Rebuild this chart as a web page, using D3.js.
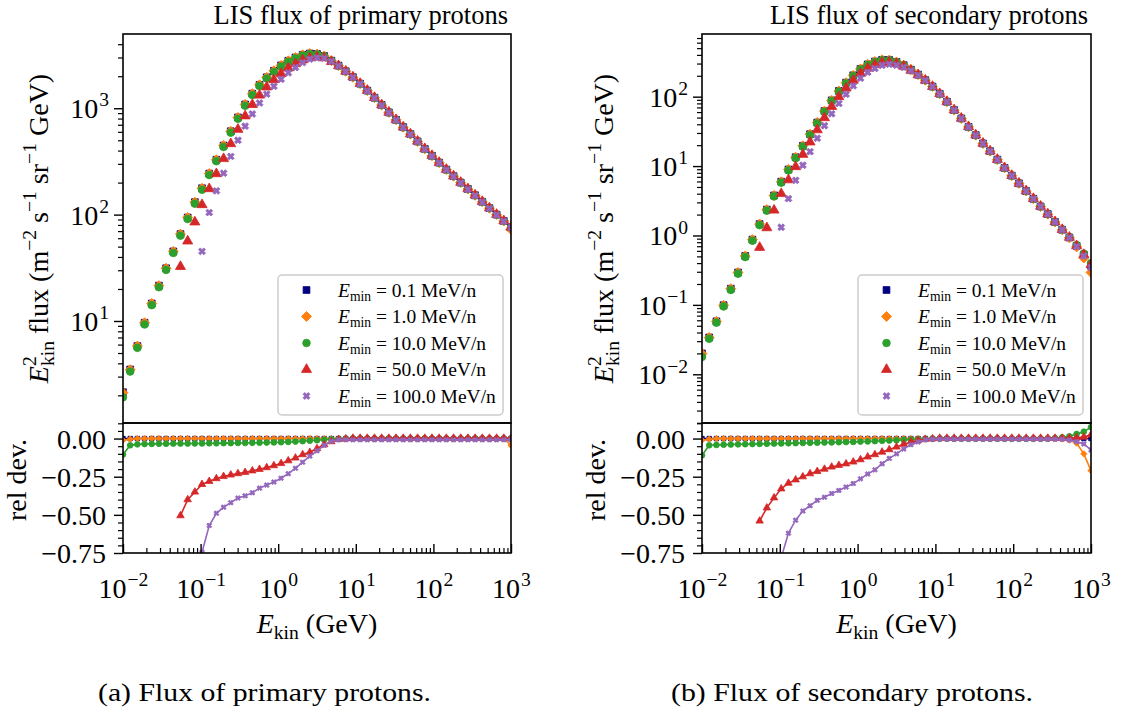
<!DOCTYPE html>
<html><head><meta charset="utf-8">
<script src="https://cdn.jsdelivr.net/npm/d3@7"></script>
<style>body{margin:0;background:#fff}svg{display:block}</style>
</head><body><svg id="c" width="1124" height="713"></svg>
<script>
// ---------------- DATA ----------------
const seriesLabels = ["0.1", "1.0", "10.0", "50.0", "100.0"];
const seriesColors = ["#000080", "#ff7f0e", "#2ca02c", "#d62728", "#9467bd"];

// kinetic energy grid (GeV)
const energies = [0.01, 0.01238, 0.01532, 0.01896, 0.02346, 0.02904, 0.03594, 0.04448, 0.05503, 0.06813,
  0.08432, 0.1043, 0.1292, 0.1598, 0.1978, 0.2448, 0.3030, 0.3750, 0.4642, 0.5745,
  0.7110, 0.8799, 1.089, 1.348, 1.668, 2.065, 2.555, 3.162, 3.914, 4.844,
  5.995, 7.420, 9.183, 11.37, 14.07, 17.41, 21.54, 26.67, 33.00, 40.84,
  50.55, 62.56, 77.43, 95.83, 118.6, 146.8, 181.7, 224.9, 278.3, 344.5,
  426.3, 527.6, 653.0, 808.2, 1000];

// reference flux (E_min = 0.1 MeV/n)
const primaryRefFlux = [2.14, 3.50, 5.81, 9.62, 14.6, 21.5, 31.3, 45.1, 65.6, 94.0,
  131, 177, 243, 328, 446, 608, 820, 1086, 1371, 1660,
  1954, 2249, 2529, 2793, 2999, 3177, 3273, 3236, 3097, 2800,
  2518, 2228, 1959, 1702, 1466, 1256, 1072, 914, 778, 664,
  571, 488, 415, 357, 308, 265, 230, 200, 174, 152,
  132, 115, 100, 87.1, 75.9];
const secondaryRefFlux = [0.0200, 0.0340, 0.0579, 0.0989, 0.171, 0.293, 0.507, 0.871, 1.46, 2.36,
  3.78, 5.96, 8.93, 13.4, 19.6, 28.8, 42.4, 62.1, 88.5, 121,
  159, 203, 251, 292, 321, 339, 337, 316, 284, 245,
  208, 173, 140, 110, 84.5, 64.1, 48.6, 36.8, 27.9, 21.2,
  16.4, 12.4, 9.42, 7.28, 5.64, 4.37, 3.38, 2.62, 2.03, 1.57,
  1.21, 0.935, 0.706, 0.525, 0.372];

// relative deviations w.r.t. the reference (null = no point)
const primaryDevE01 = [0,0,0,0,0,0,0,0,0,0, 0,0,0,0,0,0,0,0,0,0, 0,0,0,0,0,0,0,0,0,0, 0,0,0,0,0,0,0,0,0,0, 0,0,0,0,0,0,0,0,0,0, 0,0,0,0,0];
const primaryDevE1 = [-0.01,-0.004,0,0,0,0,0,0,0,0, 0,0,0,0,0,0,0,0,0,0, 0,0,0,0,0,0,0,0,0,0, 0,0,0,0,0,0,0,0,0,0, 0,0,0,0,0,0,0,0,0,0, 0,0,0,0,-0.045];
const primaryDevE10 = [-0.105,-0.044,-0.038,-0.036,-0.035,-0.034,-0.034,-0.033,-0.033,-0.033,
  -0.032,-0.032,-0.031,-0.031,-0.030,-0.030,-0.029,-0.029,-0.028,-0.027,
  -0.026,-0.025,-0.024,-0.022,-0.020,-0.017,-0.014,-0.011,-0.008,-0.005,
  -0.003,-0.001,0,0,0,0,0,0,0,0, 0,0,0,0,0,0,0,0,0,0, 0,0,0,0,0];
const primaryDevE50 = [null,null,null,null,null,null,null,null,-0.505,-0.40,
  -0.35,-0.30,-0.28,-0.262,-0.248,-0.238,-0.229,-0.221,-0.211,-0.201,
  -0.19,-0.177,-0.163,-0.145,-0.127,-0.105,-0.09,-0.065,-0.04,-0.02,
  -0.005,-0.001,0.003,0.003,0.003,0.003,0.003,0.003,0.003,0.003,
  0.003,0.003,0.003,0.003,0.003,0.003,0.003,0.003,0.003,0.003,
  0.003,0.003,0.003,0.003,0.003];
const primaryDevE100 = [null,null,null,null,null,null,null,null,null,null,
  null,-0.745,-0.57,-0.49,-0.45,-0.42,-0.39,-0.375,-0.355,-0.325,
  -0.305,-0.285,-0.26,-0.23,-0.195,-0.155,-0.115,-0.08,-0.045,-0.018,
  -0.008,-0.008,-0.008,-0.008,-0.008,-0.008,-0.008,-0.008,-0.008,-0.008,
  -0.008,-0.008,-0.008,-0.008,-0.008,-0.008,-0.008,-0.008,-0.008,-0.008,
  -0.008,-0.008,-0.008,-0.008,-0.008];

const secondaryDevE01 = [0,0,0,0,0,0,0,0,0,0, 0,0,0,0,0,0,0,0,0,0, 0,0,0,0,0,0,0,0,0,0, 0,0,0,0,0,0,0,0,0,0, 0,0,0,0,0,0,0,0,0,0, 0,0,0,0,0];
const secondaryDevE1 = [-0.01,-0.004,0,0,0,0,0,0,0,0, 0,0,0,0,0,0,0,0,0,0, 0,0,0,0,0,0,0,0,0,0, 0,0,0,0,0,0,0,0,0,0, 0,0,0,0,0,0,0,0,0,0, -0.003,-0.01,-0.03,-0.10,-0.21];
const secondaryDevE10 = [-0.11,-0.044,-0.042,-0.040,-0.039,-0.038,-0.037,-0.036,-0.035,-0.034,
  -0.033,-0.032,-0.031,-0.030,-0.029,-0.028,-0.027,-0.026,-0.025,-0.024,
  -0.023,-0.022,-0.020,-0.019,-0.017,-0.015,-0.013,-0.011,-0.009,-0.007,
  -0.005,-0.003,-0.001,0,0,0,0,0,0,0, 0,0,0,0,0,0,0,0,0,0.003,
  0.008,0.015,0.03,0.045,0.075];
const secondaryDevE50 = [null,null,null,null,null,null,null,null,-0.54,-0.454,
  -0.388,-0.329,-0.292,-0.27,-0.25,-0.23,-0.215,-0.20,-0.186,-0.175,
  -0.165,-0.153,-0.138,-0.12,-0.105,-0.088,-0.072,-0.055,-0.037,-0.022,
  -0.011,-0.004,-0.001,0.003,0.003,0.003,0.003,0.003,0.003,0.003,
  0.003,0.003,0.003,0.003,0.003,0.003,0.003,0.003,0.003,0.003,
  0.003,0.003,0.005,0.01,0.025];
const secondaryDevE100 = [null,null,null,null,null,null,null,null,null,null,
  null,-0.78,-0.62,-0.535,-0.475,-0.44,-0.405,-0.385,-0.36,-0.34,
  -0.318,-0.295,-0.264,-0.232,-0.205,-0.165,-0.13,-0.10,-0.068,-0.04,
  -0.022,-0.008,-0.004,-0.004,-0.004,-0.004,-0.004,-0.004,-0.004,-0.004,
  -0.004,-0.004,-0.004,-0.004,-0.004,-0.004,-0.004,-0.004,-0.004,-0.004,
  -0.005,-0.01,-0.02,-0.035,-0.075];

// tick values / labels
const xMajorTicks = [0.01, 0.1, 1, 10, 100, 1000];
const xMinorTicks = [0.02,0.03,0.04,0.05,0.06,0.07,0.08,0.09, 0.2,0.3,0.4,0.5,0.6,0.7,0.8,0.9,
  2,3,4,5,6,7,8,9, 20,30,40,50,60,70,80,90, 200,300,400,500,600,700,800,900];
const primaryYMajor = [10, 100, 1000];
const primaryYMinor = [2,3,4,5,6,7,8,9, 20,30,40,50,60,70,80,90, 200,300,400,500,600,700,800,900, 2000,3000,4000];
const secondaryYMajor = [0.01, 0.1, 1, 10, 100];
const secondaryYMinor = [0.002,0.003,0.004,0.005,0.006,0.007,0.008,0.009, 0.02,0.03,0.04,0.05,0.06,0.07,0.08,0.09,
  0.2,0.3,0.4,0.5,0.6,0.7,0.8,0.9, 2,3,4,5,6,7,8,9, 20,30,40,50,60,70,80,90, 200,300,400,500,600,700,800];
const relMajor = [0, -0.25, -0.5, -0.75];
const relMajorLabels = ["0.00", "\u22120.25", "\u22120.50", "\u22120.75"];
const relMinor = [0.1,0.05,-0.05,-0.1,-0.15,-0.2,-0.3,-0.35,-0.4,-0.45,-0.55,-0.6,-0.65,-0.7];

// ---------------- DRAWING ----------------
const FONT = '"Liberation Serif","Times New Roman",serif';
const svg = d3.select('#c');
svg.append('rect').attr('width',1124).attr('height',713).attr('fill','#fff');

const panels = [
  {x0:123, x1:511, yDom:[Math.pow(10,0.041), Math.pow(10,3.698)], yMajor:primaryYMajor, yMinor:primaryYMinor,
   ref:primaryRefFlux, devs:[primaryDevE01,primaryDevE1,primaryDevE10,primaryDevE50,primaryDevE100],
   title:'LIS flux of primary protons', caption:'(a) Flux of primary protons.', capX:98, capLen:333,
   ylabX:48, relX:26, legX:278},
  {x0:702, x1:1091, yDom:[Math.pow(10,-2.702), Math.pow(10,2.903)], yMajor:secondaryYMajor, yMinor:secondaryYMinor,
   ref:secondaryRefFlux, devs:[secondaryDevE01,secondaryDevE1,secondaryDevE10,secondaryDevE50,secondaryDevE100],
   title:'LIS flux of secondary protons', caption:'(b) Flux of secondary protons.', capX:671, capLen:362,
   ylabX:613, relX:605, legX:858}
];
const yTop = 34, yMid = 423, yBot = 553;
const FS = 28;

const symTypes = [d3.symbolSquare, d3.symbolSquare, d3.symbolCircle, d3.symbolTriangle, d3.symbolCross];
const symRot = [0, 45, 0, 0, 45];
const upSizes = [46, 50, 46, 44, 30];
const loSizes = [20, 20, 26, 24, 16];

function supText(t, base, exp, fs) {
  t.text(null);
  t.append('tspan').text(base);
  t.append('tspan').attr('font-size', fs*0.7).attr('dx', 1).attr('dy', -fs*0.42).text(exp);
}
function expStr(v) { const e = Math.round(Math.log10(v)); return e < 0 ? '\u2212' + (-e) : String(e); }

function marker(g, i, size, x, y) {
  g.append('path').attr('d', d3.symbol().type(symTypes[i]).size(size)())
    .attr('transform', `translate(${x},${y}) rotate(${symRot[i]})`)
    .attr('fill', seriesColors[i]).attr('stroke', seriesColors[i]).attr('stroke-width', 0.8);
}

panels.forEach((p, pi) => {
  const x = d3.scaleLog().domain([0.01, 1000]).range([p.x0, p.x1]);
  const yU = d3.scaleLog().domain(p.yDom).range([yMid, yTop]);
  const yL = d3.scaleLinear().domain([-0.75, 0.102]).range([yBot, yMid]);
  const g = svg.append('g');

  const defs = svg.append('defs');
  defs.append('clipPath').attr('id', 'cu'+pi).append('rect').attr('x', p.x0).attr('y', yTop).attr('width', p.x1-p.x0).attr('height', yMid-yTop);
  defs.append('clipPath').attr('id', 'cl'+pi).append('rect').attr('x', p.x0).attr('y', yMid).attr('width', p.x1-p.x0).attr('height', yBot-yMid);

  // upper markers
  const gu = g.append('g').attr('clip-path', `url(#cu${pi})`);
  p.devs.forEach((dev, si) => {
    energies.forEach((e, k) => {
      if (dev[k] === null) return;
      const f = p.ref[k] * (1 + dev[k]);
      marker(gu, si, upSizes[si], x(e), yU(f));
    });
  });

  // lower lines + markers
  const gl = g.append('g').attr('clip-path', `url(#cl${pi})`);
  p.devs.forEach((dev, si) => {
    const pts = energies.map((e, k) => ({e, v: dev[k]})).filter(d => d.v !== null);
    gl.append('path').datum(pts)
      .attr('d', d3.line().x(d => x(d.e)).y(d => yL(d.v)))
      .attr('fill', 'none').attr('stroke', seriesColors[si]).attr('stroke-width', 1.6);
    pts.forEach(d => marker(gl, si, loSizes[si], x(d.e), yL(d.v)));
  });

  // Upper y axis
  const ga1 = g.append('g').attr('transform', `translate(${p.x0},0)`)
    .call(d3.axisLeft(yU).tickValues(p.yMinor.filter(v => v >= p.yDom[0] && v <= p.yDom[1])).tickSize(5).tickFormat(() => ''));
  ga1.select('.domain').remove(); ga1.selectAll('line').attr('stroke-width', 1.2);
  const ga2 = g.append('g').attr('transform', `translate(${p.x0},0)`)
    .call(d3.axisLeft(yU).tickValues(p.yMajor).tickSize(9).tickPadding(5).tickFormat(d => expStr(d)));
  ga2.select('.domain').remove(); ga2.selectAll('line').attr('stroke-width', 1.4);
  ga2.selectAll('.tick text').each(function(d) {
    const t = d3.select(this).attr('font-family', FONT).attr('font-size', FS).attr('dy', null).attr('y', 9.5).attr('fill', '#000');
    supText(t, '10', expStr(d), FS);
  });

  // Lower y axis
  const gb1 = g.append('g').attr('transform', `translate(${p.x0},0)`)
    .call(d3.axisLeft(yL).tickValues(relMinor).tickSize(5).tickFormat(() => ''));
  gb1.select('.domain').remove(); gb1.selectAll('line').attr('stroke-width', 1.2);
  const gb2 = g.append('g').attr('transform', `translate(${p.x0},0)`)
    .call(d3.axisLeft(yL).tickValues(relMajor).tickSize(9).tickPadding(8).tickFormat((d, i) => relMajorLabels[i]));
  gb2.select('.domain').remove(); gb2.selectAll('line').attr('stroke-width', 1.4);
  gb2.selectAll('.tick text').attr('font-family', FONT).attr('font-size', FS).attr('dy', null).attr('y', 9.5).attr('fill', '#000');

  // Bottom x axis (ticks inward)
  const gx1 = g.append('g').attr('transform', `translate(0,${yBot})`)
    .call(d3.axisBottom(x).tickValues(xMinorTicks).tickSize(-5).tickFormat(() => ''));
  gx1.select('.domain').remove(); gx1.selectAll('line').attr('stroke-width', 1.2);
  const gx2 = g.append('g').attr('transform', `translate(0,${yBot})`)
    .call(d3.axisBottom(x).tickValues(xMajorTicks).tickSize(-9).tickPadding(0).tickFormat(d => expStr(d)));
  gx2.select('.domain').remove(); gx2.selectAll('line').attr('stroke-width', 1.4);
  gx2.selectAll('.tick text').each(function(d) {
    const t = d3.select(this).attr('font-family', FONT).attr('font-size', FS).attr('dy', null).attr('y', 45).attr('fill', '#000');
    supText(t, '10', expStr(d), FS);
  });

  // frames
  [[yTop, yMid], [yMid, yBot]].forEach(([a, b]) => {
    g.append('rect').attr('x', p.x0).attr('y', a).attr('width', p.x1 - p.x0).attr('height', b - a)
      .attr('fill', 'none').attr('stroke', '#000').attr('stroke-width', 1.6);
  });

  // title
  g.append('text').attr('x', p.x1 - 3).attr('y', 24).attr('text-anchor', 'end')
    .attr('font-family', FONT).attr('font-size', 26.5).text(p.title);

  // upper y label
  const yl = g.append('text').attr('transform', `translate(${p.ylabX},${(yTop + yMid) / 2}) rotate(-90)`)
    .attr('text-anchor', 'middle').attr('font-family', FONT).attr('font-size', FS);
  const sfs = FS * 0.7;
  yl.append('tspan').attr('font-style', 'italic').text('E');
  yl.append('tspan').attr('font-size', sfs).attr('dy', -12).text('2');
  yl.append('tspan').attr('font-size', sfs).attr('dx', -sfs * 0.5).attr('dy', 18).text('kin');
  yl.append('tspan').attr('dy', -6).text(' flux (m');
  yl.append('tspan').attr('font-size', sfs).attr('dy', -12).text('\u22122');
  yl.append('tspan').attr('dy', 12).text(' s');
  yl.append('tspan').attr('font-size', sfs).attr('dy', -12).text('\u22121');
  yl.append('tspan').attr('dy', 12).text(' sr');
  yl.append('tspan').attr('font-size', sfs).attr('dy', -12).text('\u22121');
  yl.append('tspan').attr('dy', 12).text(' GeV)');

  // lower y label
  g.append('text').attr('transform', `translate(${p.relX},480) rotate(-90)`)
    .attr('text-anchor', 'middle').attr('font-family', FONT).attr('font-size', FS).text('rel dev.');

  // x label
  const xl = g.append('text').attr('x', (p.x0 + p.x1) / 2).attr('y', 633).attr('text-anchor', 'middle')
    .attr('font-family', FONT).attr('font-size', FS);
  xl.append('tspan').attr('font-style', 'italic').text('E');
  xl.append('tspan').attr('font-size', sfs).attr('dy', 6).text('kin');
  xl.append('tspan').attr('dy', -6).text(' (GeV)');

  // legend
  const lg = g.append('g');
  lg.append('rect').attr('x', p.legX).attr('y', 275).attr('width', 225).attr('height', 140).attr('rx', 4)
    .attr('fill', '#fff').attr('fill-opacity', 0.8).attr('stroke', '#cccccc').attr('stroke-width', 1.5);
  seriesLabels.forEach((lab, si) => {
    const ry = 290 + si * 26.5;
    marker(lg, si, upSizes[si], p.legX + 28.5, ry);
    const t = lg.append('text').attr('x', p.legX + 60).attr('y', ry + 6.5)
      .attr('font-family', FONT).attr('font-size', 19.5);
    t.append('tspan').attr('font-style', 'italic').text('E');
    t.append('tspan').attr('font-size', 13.6).attr('dy', 4).text('min');
    t.append('tspan').attr('dy', -4).text(` = ${lab} MeV/n`);
  });

  // caption
  svg.append('text').attr('x', p.capX).attr('y', 701).attr('font-family', FONT).attr('font-size', 26)
    .attr('textLength', p.capLen).attr('lengthAdjust', 'spacingAndGlyphs').text(p.caption);
});
</script></body></html>
